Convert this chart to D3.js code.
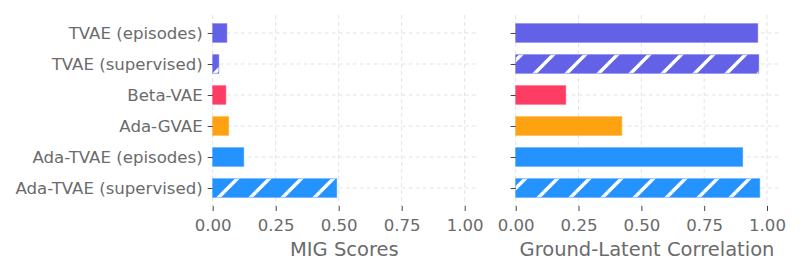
<!DOCTYPE html>
<html>
<head>
<meta charset="utf-8">
<script src="https://cdn.jsdelivr.net/npm/d3@7"></script>
<style>
  body { margin: 0; background: #fff; }
  svg { display: block; font-family: "DejaVu Sans", sans-serif; }
  .grid line { stroke: #e3e3e3; stroke-dasharray: 4,3; stroke-width: 1; }
  .tick text { fill: #6b6b6b; }
  .axis path.domain { display: none; }
  .axis .tick line { stroke: #444; }
</style>
</head>
<body>
<div id="chart"></div>
<script>
const models = ["TVAE (episodes)", "TVAE (supervised)", "Beta-VAE", "Ada-GVAE", "Ada-TVAE (episodes)", "Ada-TVAE (supervised)"];
const migScores = [0.056, 0.024, 0.052, 0.063, 0.123, 0.492];
const correlation = [0.963, 0.967, 0.199, 0.422, 0.903, 0.971];
const barColors = ["#5e5ce6", "#5e5ce6", "#ff375f", "#ff9f0a", "#1e90ff", "#1e90ff"];
const hatched = [false, true, false, false, false, true];
const xTicks = [0, 0.25, 0.5, 0.75, 1.0];

const width = 800, height = 275;
const plotTop = 15, plotBottom = 206;
const tickFont = 16.6;

const svg = d3.select("#chart").append("svg")
    .attr("width", width)
    .attr("height", height);

// hatch patterns, one per colour
const defs = svg.append("defs");
Array.from(new Set(barColors)).forEach(function(c) {
  const p = defs.append("pattern")
      .attr("id", "hatch" + c.slice(1))
      .attr("patternUnits", "userSpaceOnUse")
      .attr("width", 32).attr("height", 32);
  p.append("rect").attr("width", 32).attr("height", 32).attr("fill", c);
  p.append("path")
      .attr("d", "M-8,8 L8,-8 M0,32 L32,0 M24,40 L40,24")
      .attr("stroke", "#fff")
      .attr("stroke-width", 3.4);
});

// y positions: bars centred on integer slots, matplotlib-style margins
const y = d3.scaleLinear().domain([-0.58, 5.58]).range([plotTop, plotBottom]);
const barH = 0.6;

function panel(x0, unit, values, label) {
  const x = d3.scaleLinear().domain([0, 1]).range([x0, x0 + unit]);
  const right = x(1.045);
  const g = svg.append("g");

  // vertical grid
  g.append("g").attr("class", "grid")
    .selectAll("line").data(xTicks).enter().append("line")
      .attr("x1", d => x(d)).attr("x2", d => x(d))
      .attr("y1", plotTop).attr("y2", plotBottom);
  // horizontal grid
  g.append("g").attr("class", "grid")
    .selectAll("line").data(models).enter().append("line")
      .attr("x1", x0).attr("x2", right)
      .attr("y1", (d, i) => y(i)).attr("y2", (d, i) => y(i));

  g.selectAll("rect.bar").data(values).enter().append("rect")
      .attr("class", "bar")
      .attr("x", x(0))
      .attr("y", (d, i) => y(i - barH / 2))
      .attr("width", d => x(d) - x(0))
      .attr("height", y(barH) - y(0))
      .attr("fill", (d, i) => hatched[i] ? "url(#hatch" + barColors[i].slice(1) + ")" : barColors[i])
      .attr("fill-opacity", 0.97)
      .attr("stroke", (d, i) => barColors[i])
      .attr("stroke-opacity", 0.55)
      .attr("stroke-width", 1);

  const xAxis = d3.axisBottom(x).tickValues(xTicks)
      .tickFormat(d3.format(".2f")).tickSize(5).tickPadding(8);
  g.append("g").attr("class", "axis")
      .attr("transform", "translate(0," + plotBottom + ")")
      .call(xAxis)
      .selectAll("text").attr("font-size", tickFont).attr("font-family", "DejaVu Sans");

  g.append("text")
      .attr("x", (x0 + right) / 2)
      .attr("y", 255.5)
      .attr("text-anchor", "middle")
      .attr("fill", "#6b6b6b")
      .attr("font-size", 19.5)
      .text(label);
  return x;
}

panel(212.7, 252, migScores, "MIG Scores");
panel(515.7, 251.3, correlation, "Ground-Latent Correlation");

// y axis labels on left panel, ticks on both
const yAxis = d3.axisLeft(d3.scalePoint().domain(models).range([y(0), y(5)]))
    .tickSize(5).tickPadding(5);
svg.append("g").attr("class", "axis")
    .attr("transform", "translate(212.7,0)")
    .call(yAxis)
    .selectAll("text").attr("font-size", tickFont).attr("font-family", "DejaVu Sans");
svg.append("g").attr("class", "axis")
    .attr("transform", "translate(515.7,0)")
    .call(yAxis.tickFormat(""));
</script>
</body>
</html>
